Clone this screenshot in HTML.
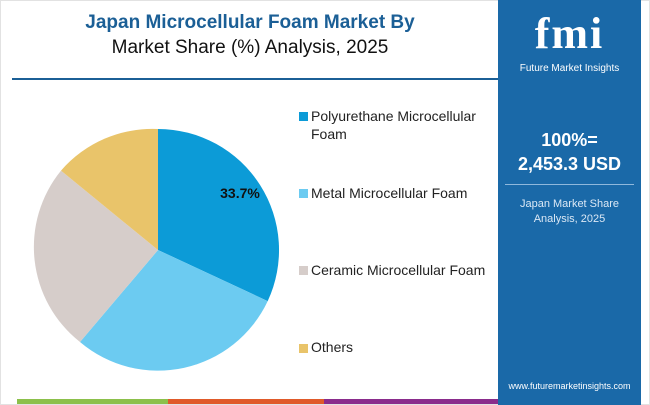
<!DOCTYPE html>
<html><head><meta charset="utf-8"><style>
body{margin:0;width:650px;height:405px;overflow:hidden;background:#fff;font-family:"Liberation Sans",sans-serif;position:relative}
.a{position:absolute}
</style></head><body>
<div class="a" style="left:0;top:0;width:648px;height:403px;border:1px solid #e2e2e2"></div>
<div class="a" style="left:0;top:12px;width:500px;text-align:center;font-weight:bold;font-size:19px;color:#1b5f96">Japan Microcellular Foam Market By</div>
<div class="a" style="left:0;top:37px;width:500px;text-align:center;font-size:19px;color:#111">Market Share (%) Analysis, 2025</div>
<div class="a" style="left:12px;top:78px;width:486px;height:2px;background:#1b5f96"></div>
<svg class="a" style="left:0;top:0" width="500" height="405">
<path d="M158,250 L158,129 A121,121 0 0 1 267.7,301.1 Z" fill="#0c9bd7"/>
<path d="M158,250 L267.7,301.1 A121,121 0 0 1 80,342 Z" fill="#6ccbf1"/>
<path d="M158,250 L80,342 A121,121 0 0 1 61,170.6 Z" fill="#d6cdca"/>
<path d="M158,250 L61,170.6 A121,121 0 0 1 158,129 Z" fill="#e9c46a"/>
<text x="240" y="198" font-size="14" font-weight="bold" text-anchor="middle" fill="#111" font-family="Liberation Sans">33.7%</text>
</svg>
<div class="a" style="left:299px;top:112px;width:9px;height:9px;background:#0c9bd7"></div>
<div class="a" style="left:311px;top:107px;font-size:14px;color:#222;line-height:18px">Polyurethane Microcellular<br>Foam</div>
<div class="a" style="left:299px;top:189px;width:9px;height:9px;background:#6ccbf1"></div>
<div class="a" style="left:311px;top:184px;font-size:14px;color:#222;line-height:18px">Metal Microcellular Foam</div>
<div class="a" style="left:299px;top:266px;width:9px;height:9px;background:#d6cdca"></div>
<div class="a" style="left:311px;top:261px;font-size:14px;color:#222;line-height:18px">Ceramic Microcellular Foam</div>
<div class="a" style="left:299px;top:344px;width:9px;height:9px;background:#e9c46a"></div>
<div class="a" style="left:311px;top:338px;font-size:14px;color:#222;line-height:18px">Others</div>
<div class="a" style="left:498px;top:0;width:143px;height:405px;background:#1a69a8"></div>
<div class="a" style="left:498px;top:8px;width:143px;text-align:center;font-size:44px;font-weight:bold;color:#fff;letter-spacing:2px;font-family:'Liberation Serif',serif">fmi</div>
<div class="a" style="left:498px;top:63px;width:143px;text-align:center;font-size:10px;color:#fff">Future Market Insights</div>
<div class="a" style="left:498px;top:130px;width:143px;text-align:center;font-size:18px;font-weight:bold;color:#fff">100%=</div>
<div class="a" style="left:498px;top:154px;width:143px;text-align:center;font-size:18px;font-weight:bold;color:#fff">2,453.3 USD</div>
<div class="a" style="left:505px;top:184px;width:129px;height:1px;background:#8fb8dc"></div>
<div class="a" style="left:498px;top:197px;width:143px;text-align:center;font-size:11px;color:#dbe8f5;line-height:15px">Japan Market Share<br>Analysis, 2025</div>
<div class="a" style="left:498px;top:381px;width:143px;text-align:center;font-size:9px;color:#fff">www.futuremarketinsights.com</div>
<div class="a" style="left:17px;top:399px;width:151px;height:5px;background:#8cc04b"></div>
<div class="a" style="left:168px;top:399px;width:156px;height:5px;background:#e05a2a"></div>
<div class="a" style="left:324px;top:399px;width:174px;height:5px;background:#8a2c8c"></div>
</body></html>
